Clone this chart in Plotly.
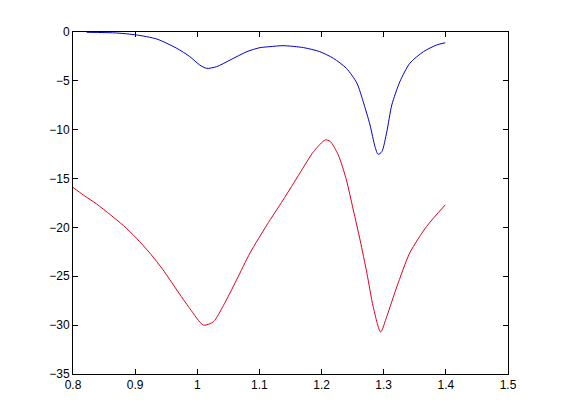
import plotly.graph_objects as go

# upper (blue) curve
x_blue = [0.822, 0.870, 0.902, 0.935, 0.967, 0.988, 1.004, 1.015, 1.031, 1.053,
          1.080, 1.101, 1.117, 1.138, 1.171, 1.197, 1.219, 1.240, 1.257, 1.267,
          1.278, 1.286, 1.291, 1.297, 1.305, 1.313, 1.326, 1.342, 1.364, 1.385,
          1.399]
y_blue = [-0.03, -0.1, -0.3, -0.72, -1.67, -2.52, -3.38, -3.72, -3.55, -2.86,
          -2.01, -1.6, -1.5, -1.4, -1.6, -2.01, -2.69, -3.72, -5.25, -7.13,
          -9.52, -11.74, -12.52, -12.25, -10.2, -7.47, -5.08, -3.2, -2.01, -1.33,
          -1.1]

# lower (red) curve
x_red = [0.800, 0.817, 0.838, 0.860, 0.881, 0.902, 0.924, 0.945, 0.967, 0.988,
         1.010, 1.026, 1.042, 1.063, 1.085, 1.112, 1.138, 1.165, 1.187, 1.206,
         1.214, 1.227, 1.240, 1.251, 1.262, 1.273, 1.283, 1.295, 1.305, 1.321,
         1.342, 1.369, 1.399]
y_red = [-15.9, -16.7, -17.6, -18.7, -19.8, -21.1, -22.65, -24.35, -26.4, -28.3,
         -30.0, -29.65, -28.0, -25.4, -22.6, -19.75, -17.2, -14.45, -12.25, -11.05,
         -11.2, -12.6, -15.15, -18.2, -21.3, -24.7, -28.1, -30.7, -29.1, -26.1,
         -22.6, -19.9, -17.7]

x_ticks = [0.8, 0.9, 1, 1.1, 1.2, 1.3, 1.4, 1.5]
x_labels = ["0.8", "0.9", "1", "1.1", "1.2", "1.3", "1.4", "1.5"]
y_ticks = [0, -5, -10, -15, -20, -25, -30, -35]

fig = go.Figure()

fig.add_trace(
    go.Scatter(
        x=x_blue,
        y=y_blue,
        mode="lines",
        line=dict(color="rgb(0,0,200)", width=1, shape="spline", smoothing=0.7),
        showlegend=False,
    )
)
fig.add_trace(
    go.Scatter(
        x=x_red,
        y=y_red,
        mode="lines",
        line=dict(color="rgb(220,0,30)", width=1, shape="spline", smoothing=0.7),
        showlegend=False,
    )
)

# page body has an 8px margin, so the figure is a bit smaller than the window
fig.update_layout(
    width=545,
    height=404,
    margin=dict(l=65, r=45, t=24, b=38),
    paper_bgcolor="white",
    plot_bgcolor="white",
    font=dict(family="Liberation Sans, Arial", size=12, color="black"),
)
fig.update_xaxes(
    range=[0.8, 1.5],
    tickvals=x_ticks,
    ticktext=x_labels,
    ticks="inside",
    ticklen=5,
    tickcolor="black",
    showline=True,
    linecolor="black",
    linewidth=1,
    mirror="ticks",
    showgrid=False,
    zeroline=False,
)
fig.update_yaxes(
    range=[-35, 0],
    tickvals=y_ticks,
    ticks="inside",
    ticklen=5,
    tickcolor="black",
    showline=True,
    linecolor="black",
    linewidth=1,
    mirror="ticks",
    showgrid=False,
    zeroline=False,
)

fig.write_html("out.html")
